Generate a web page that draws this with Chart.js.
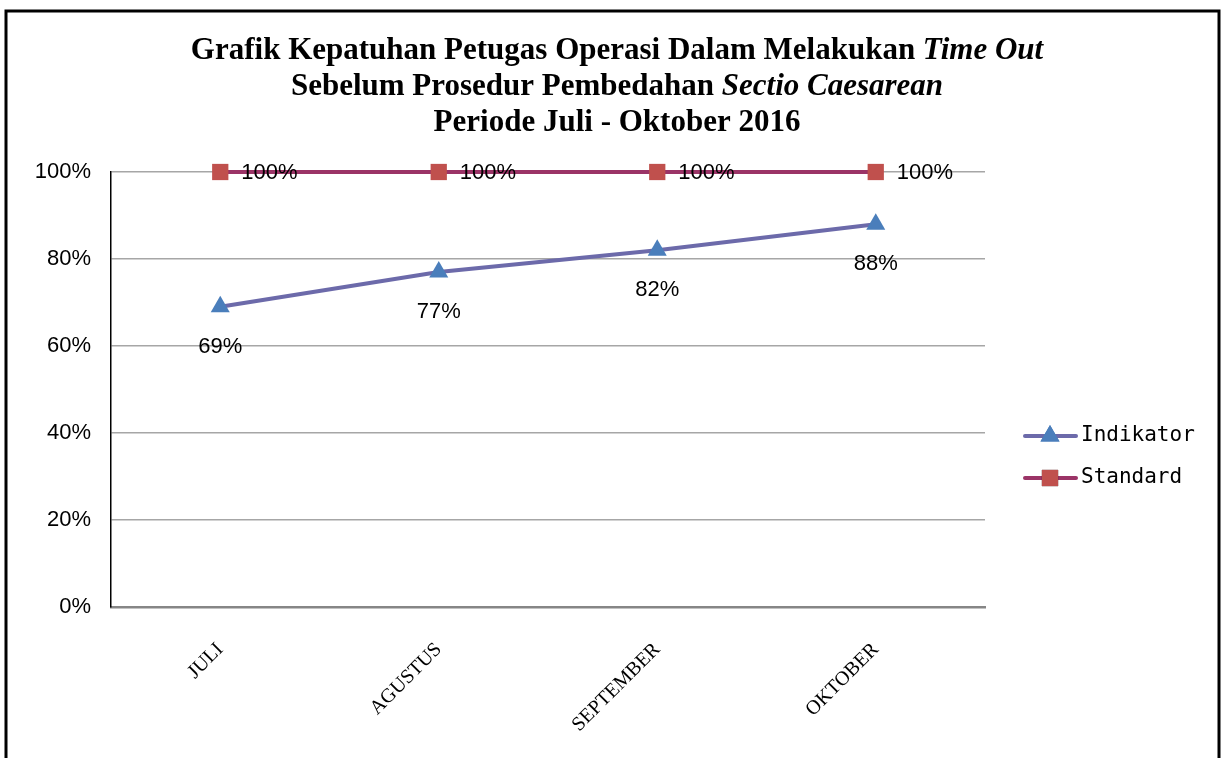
<!DOCTYPE html>
<html>
<head>
<meta charset="utf-8">
<script src="https://cdn.jsdelivr.net/npm/chart.js@4.4.0/dist/chart.umd.min.js"></script>
<style>
  html, body { margin: 0; padding: 0; background: #fff; }
  #wrap { width: 1224px; height: 758px; }
</style>
</head>
<body>
<div id="wrap"><canvas id="kepatuhanChart" width="1224" height="758"></canvas></div>
<script>
// data
const bulan = ['JULI', 'AGUSTUS', 'SEPTEMBER', 'OKTOBER'];
const indikator = [69, 77, 82, 88];
const standard = [100, 100, 100, 100];
const yTicks = [0, 20, 40, 60, 80, 100];
const judul = [
    [['Grafik Kepatuhan Petugas Operasi Dalam Melakukan ', false], ['Time Out', true]],
    [['Sebelum Prosedur Pembedahan ', false], ['Sectio Caesarean', true]],
    [['Periode Juli - Oktober 2016', false]]
];

const sans = '"Liberation Sans", Arial, sans-serif';

// frame + title with italic parts
const frameTitle = {
    id: 'frameTitle',
    beforeDraw(chart) {
        const ctx = chart.ctx;
        ctx.save();
        ctx.strokeStyle = '#000';
        ctx.lineWidth = 3;
        ctx.strokeRect(6, 11, 1213, 800);
        ctx.restore();
    },
    afterDraw(chart) {
        const ctx = chart.ctx;
        ctx.save();
        ctx.fillStyle = '#000';
        ctx.textBaseline = 'middle';
        ctx.textAlign = 'left';
        const size = 31;
        judul.forEach((line, i) => {
            const fonts = line.map(r => (r[1] ? 'italic ' : '') + 'bold ' + size + 'px "Liberation Serif", "Times New Roman", serif');
            let total = 0;
            line.forEach((r, j) => { ctx.font = fonts[j]; total += ctx.measureText(r[0]).width; });
            let x = 617 - total / 2;
            const y = 51 + i * 36;
            line.forEach((r, j) => {
                ctx.font = fonts[j];
                ctx.fillText(r[0], x, y);
                x += ctx.measureText(r[0]).width;
            });
        });
        ctx.restore();
    }
};

// value labels
const nilaiLabel = {
    id: 'nilaiLabel',
    afterDatasetsDraw(chart) {
        const ctx = chart.ctx;
        ctx.save();
        ctx.fillStyle = '#000';
        ctx.font = '22px ' + sans;
        ctx.textBaseline = 'middle';
        chart.data.datasets.forEach((ds, i) => {
            const meta = chart.getDatasetMeta(i);
            meta.data.forEach((pt, j) => {
                const txt = ds.data[j] + '%';
                if (i === 0) {
                    ctx.textAlign = 'center';
                    ctx.fillText(txt, pt.x, pt.y + 40);
                } else {
                    ctx.textAlign = 'left';
                    ctx.fillText(txt, pt.x + 21, pt.y + 1);
                }
            });
        });
        ctx.restore();
    }
};

// legend with line + marker
const legendaKanan = {
    id: 'legendaKanan',
    afterDraw(chart) {
        const ctx = chart.ctx;
        ctx.save();
        chart.data.datasets.forEach((ds, i) => {
            const y = 436 + i * 42;
            ctx.strokeStyle = ds.borderColor;
            ctx.lineWidth = 4;
            ctx.lineCap = 'round';
            ctx.beginPath();
            ctx.moveTo(1025, y);
            ctx.lineTo(1076, y);
            ctx.stroke();
            Chart.helpers.drawPoint(ctx, {
                pointStyle: ds.pointStyle,
                radius: ds.pointRadius,
                borderWidth: 0
            }, 1050, y);
            ctx.fillStyle = ds.pointBackgroundColor;
            ctx.fill();
            ctx.fillStyle = '#000';
            ctx.font = '21px "DejaVu Sans Mono", monospace';
            ctx.textAlign = 'left';
            ctx.textBaseline = 'middle';
            ctx.fillText(ds.label, 1081, y);
        });
        ctx.restore();
    }
};

new Chart(document.getElementById('kepatuhanChart'), {
    type: 'line',
    data: {
        labels: bulan,
        datasets: [{
            label: 'Indikator',
            data: indikator,
            borderColor: '#6C6AAA',
            borderWidth: 4,
            pointStyle: 'triangle',
            pointRadius: 11,
            pointBackgroundColor: '#4A7EBB',
            pointBorderWidth: 0,
            clip: false,
            tension: 0
        }, {
            label: 'Standard',
            data: standard,
            borderColor: '#9B3467',
            borderWidth: 4,
            pointStyle: 'rect',
            pointRadius: 11.5,
            pointBackgroundColor: '#C0504D',
            pointBorderWidth: 0,
            clip: false,
            tension: 0
        }]
    },
    options: {
        responsive: false,
        animation: false,
        layout: {
            padding: { left: 11, top: 172, right: 239, bottom: 0 }
        },
        plugins: {
            legend: { display: false },
            title: { display: false },
            tooltip: { enabled: false }
        },
        scales: {
            x: {
                offset: true,
                grid: { display: true, drawOnChartArea: false, drawTicks: false },
                border: { color: '#868686', width: 2.5 },
                ticks: {
                    autoSkip: false,
                    minRotation: 45,
                    maxRotation: 45,
                    padding: 31,
                    color: '#000',
                    font: { family: '"Liberation Serif", "Times New Roman", serif', size: 20 }
                },
                afterFit(scale) { scale.height = 151; }
            },
            y: {
                min: 0,
                max: 100,
                afterBuildTicks(scale) { scale.ticks = yTicks.map(v => ({ value: v })); },
                grid: { color: '#A6A6A6', lineWidth: 1.5, drawTicks: false },
                border: { color: '#000', width: 1.5 },
                ticks: {
                    padding: 20,
                    color: '#000',
                    font: { family: sans, size: 22 },
                    callback: v => v + '%'
                },
                afterFit(scale) { scale.width = 100; }
            }
        }
    },
    plugins: [frameTitle, nilaiLabel, legendaKanan]
});
</script>
</body>
</html>
